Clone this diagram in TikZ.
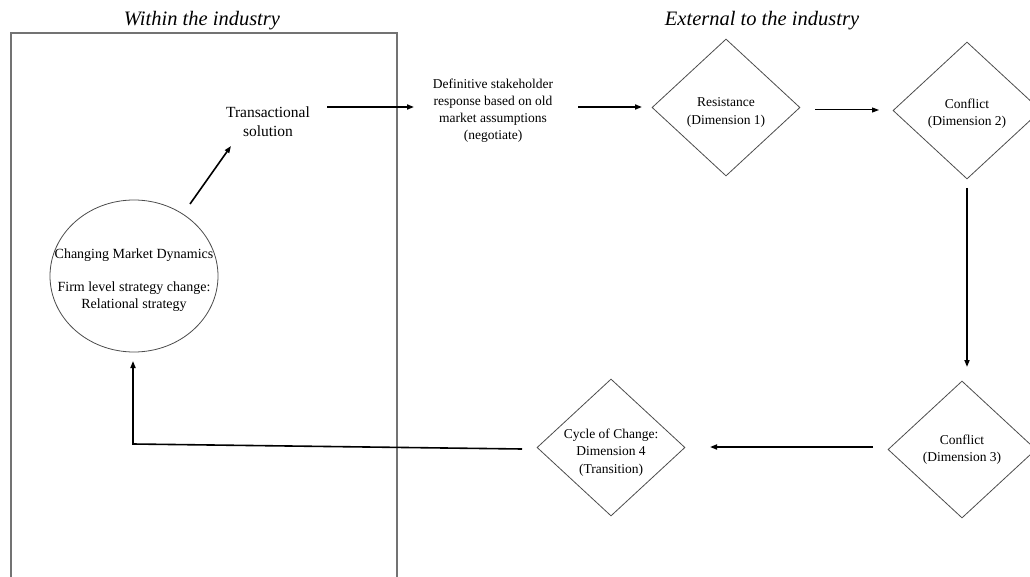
\documentclass[tikz,border=0pt]{standalone}
\usepackage{fontspec}
\setmainfont{Liberation Serif}
\usetikzlibrary{shapes.geometric,arrows.meta}
\begin{document}
\begin{tikzpicture}[x=1pt,y=-1pt,
  dia/.style={diamond,draw=black!70,line width=0.8pt,minimum width=148pt,minimum height=137pt,inner sep=0pt},
  dtxt/.style={align=center,inner sep=0pt,font=\fontsize{13.5}{17.5}\selectfont},
  conn/.style={line width=1.6pt,-{Triangle[length=7pt,width=5pt]}},
  title/.style={font=\fontsize{20.5}{24}\selectfont\itshape},
  smalltxt/.style={align=center,font=\fontsize{13.5}{17}\selectfont}]
\useasboundingbox (0,0) rectangle (1030,577);
% left frame (open at the bottom)
\draw[black!55,line width=1.6pt] (11,580) -- (11,33) -- (397,33) -- (397,580);
\node[title] (t1) at (202,21) {Within the industry};
\node[title] (t2) at (762,21) {External to the industry};
% nodes
\node[align=center,font=\fontsize{15.5}{19}\selectfont] (trans) at (268,122) {Transactional\\solution};
\node[smalltxt] (def) at (493,111) {Definitive stakeholder\\response based on old\\market assumptions\\(negotiate)};
\node[dia] (d1) at (726,107.5) {};
\node[dia] (d2) at (967,110.5) {};
\node[dia] (d3) at (962,449.5) {};
\node[dia] (d4) at (611,447.5) {};
\node[dtxt] (l1) at ([yshift=-5pt]d1.center) {Resistance\\(Dimension 1)};
\node[dtxt] (l2) at ([yshift=-3pt]d2.center) {Conflict\\(Dimension 2)};
\node[dtxt] (l3) at ([yshift=0pt]d3.center) {Conflict\\(Dimension 3)};
\node[dtxt] (l4) at ([yshift=-5pt]d4.center) {Cycle of Change:\\Dimension 4\\(Transition)};
\node[ellipse,draw=black!70,line width=0.8pt,minimum width=168pt,minimum height=152pt,inner sep=0pt] (circ) at (134,276) {};
\node[smalltxt,font=\fontsize{14}{17}\selectfont] (c1) at (134,255) {Changing Market Dynamics};
\node[smalltxt,font=\fontsize{14}{17}\selectfont] (c2) at (134,297) {Firm level strategy change:\\Relational strategy};
% connector anchor points
\coordinate (a1s) at (327,107);
\coordinate (a1e) at (414,107);
\coordinate (a2s) at (578,107);
\coordinate (a2e) at (642,107);
\coordinate (a3s) at (815,110);
\coordinate (a3e) at (879,110);
\coordinate (a4s) at (967,188);
\coordinate (a4e) at (967,367);
\coordinate (a5s) at (873,447);
\coordinate (a5e) at (710,447);
\coordinate (a6s) at (522,449);
\coordinate (a6c) at (133,444);
\coordinate (a6e) at (133,361);
\coordinate (a7s) at (190,204);
\coordinate (a7e) at (231,146);
% connectors
\draw[conn] (a1s) -- (a1e);
\draw[conn] (a2s) -- (a2e);
\draw[conn,line width=1pt] (a3s) -- (a3e);
\draw[conn] (a4s) -- (a4e);
\draw[conn] (a5s) -- (a5e);
\draw[conn] (a6s) -- (a6c) -- (a6e);
\draw[conn] (a7s) -- (a7e);
\end{tikzpicture}
\end{document}
